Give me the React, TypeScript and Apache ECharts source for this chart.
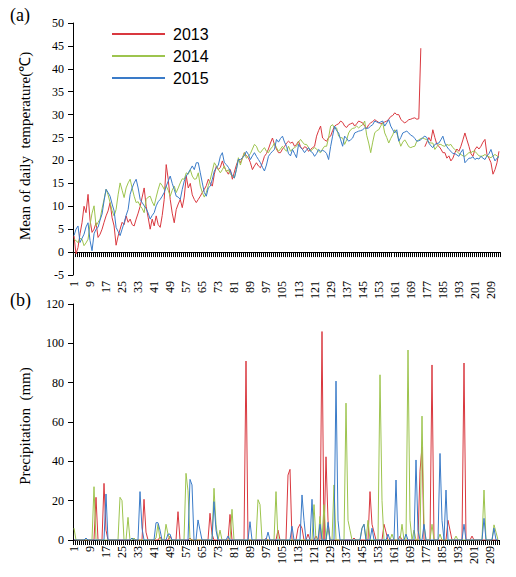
import React, { useEffect, useRef } from "react";
import * as echarts from "echarts";

const days: string[] = Array.from({ length: 213 }, (_, i) => String(i + 1));

const temp2013: (number | null)[] = [
  3.5, -0.4, 1.0, 4.0, 6.4, 10.0, 8.6, 12.6,
  7.0, 4.3, 5.0, 6.4, 3.2, 3.9, 5.0, 6.5,
  7.9, 9.0, 10.8, 7.5, 5.7, 1.5, 3.5, 5.0,
  6.5, 6.0, 7.9, 6.5, 7.2, 6.0, 5.7, 7.2,
  8.5, 10.0, 12.0, 14.0, 10.0, 7.5, 5.0, 7.2,
  5.7, 7.9, 6.0, 5.4, 8.0, 11.5, 19.1, 15.9,
  11.5, 8.5, 6.4, 9.3, 10.5, 11.5, 9.7, 12.0,
  16.6, 14.0, 15.0, 12.5, 11.5, 10.8, 11.5, 12.2,
  13.0, 13.7, 14.5, 15.9, 15.0, 14.4, 17.0, 18.8,
  18.0, 18.5, 19.9, 18.5, 17.7, 17.0, 18.0, 15.9,
  17.5, 19.0, 20.2, 19.5, 20.5, 21.7, 21.0, 20.6,
  19.5, 18.0, 18.8, 19.5, 18.8, 18.4, 19.5, 20.9,
  21.5, 22.5, 23.8, 24.9, 23.5, 22.5, 21.7, 21.7,
  22.5, 23.0, 23.8, 24.2, 23.8, 24.0, 23.1, 23.5,
  24.2, 23.0, 22.4, 23.0, 22.8, 22.0, 22.4, 22.8,
  23.1, 25.3, 26.5, 27.5, 24.9, 24.5, 24.2, 25.0,
  25.3, 26.5, 27.5, 27.8, 28.0, 28.6, 28.3, 27.5,
  27.2, 27.8, 28.0, 28.2, 27.5, 28.0, 28.6, 28.4,
  28.2, 27.5, 27.0, 27.8, 28.2, 28.5, 28.9, 28.6,
  28.3, 28.0, 28.2, 28.4, 28.6, 29.0, 29.6, 29.8,
  30.4, 30.0, 30.0, 29.0, 28.5, 28.2, 28.5, 28.9,
  29.0, 29.2, 29.3, 29.0, 29.1, 44.5, null, 23.0,
  24.0, 25.0, 24.2, 26.7, 25.0, 23.5, 23.1, 22.5,
  21.7, 21.7, 20.5, 21.0, 19.9, 20.5, 21.7, 22.5,
  22.0, 23.1, 24.5, 26.0, 24.5, 23.1, 21.5, 20.9,
  22.4, 23.0, 22.5, 23.1, 24.0, 24.6, 21.3, 20.5,
  19.5, 17.0, 18.0, 19.5, 22.0,
];

const temp2014: number[] = [
  2.8, 2.5, 2.1, 3.0, 2.8, 1.4, 2.0, 2.8,
  6.0, 8.5, 10.1, 5.7, 6.5, 7.2, 9.5, 11.5,
  13.7, 12.5, 10.8, 9.0, 7.9, 9.3, 12.5, 15.1,
  13.5, 11.9, 14.0, 15.1, 15.9, 14.0, 12.2, 10.8,
  11.0, 10.1, 9.5, 8.6, 11.5, 12.0, 12.2, 11.0,
  10.1, 12.0, 13.7, 15.1, 14.5, 13.7, 14.4, 13.5,
  12.2, 13.5, 14.4, 13.0, 14.0, 15.1, 16.0, 15.9,
  17.3, 17.0, 18.0, 16.6, 15.9, 16.0, 17.3, 14.4,
  13.0, 12.0, 13.0, 14.5, 15.9, 17.7, 19.5, 18.8,
  18.0, 17.3, 18.0, 18.8, 17.5, 18.0, 17.0, 16.6,
  16.2, 18.0, 20.6, 19.0, 20.5, 21.7, 20.5, 20.9,
  21.5, 22.5, 23.5, 23.1, 22.0, 21.7, 22.3, 22.8,
  22.0, 21.7, 22.5, 23.0, 23.8, 22.8, 22.0, 22.5,
  23.1, 22.5, 22.0, 23.1, 22.0, 22.5, 22.8, 23.1,
  24.0, 24.6, 24.0, 23.5, 23.5, 22.8, 22.0, 22.5,
  22.8, 22.5, 22.0, 21.7, 22.5, 23.1, 23.1, 25.0,
  27.5, 27.8, 27.0, 27.1, 25.3, 25.0, 24.9, 23.5,
  24.5, 26.0, 26.7, 27.0, 27.1, 27.5, 27.1, 27.5,
  27.8, 28.6, 25.5, 23.8, 21.7, 24.0, 26.0, 26.5,
  26.7, 27.5, 28.2, 26.0, 25.0, 23.8, 24.8, 25.6,
  26.7, 26.0, 24.5, 23.1, 24.0, 24.5, 23.8, 23.0,
  22.8, 23.0, 23.1, 24.2, 24.5, 24.8, 24.9, 24.7,
  24.5, 24.0, 23.8, 23.8, 22.4, 23.0, 23.5, 23.5,
  23.2, 23.1, 23.5, 23.3, 23.5, 22.8, 22.4, 22.0,
  21.5, 21.3, 21.0, 20.9, 21.3, 21.7, 21.7, 22.0,
  22.0, 21.5, 21.0, 20.9, 21.0, 21.3, 21.0, 20.8,
  20.6, 21.0, 21.3, 21.0, 20.6,
];

const temp2015: number[] = [
  3.6, 5.0, 5.7, 2.1, 3.0, 3.9, 5.5, 6.4,
  2.5, 0.3, 4.0, 5.0, 5.4, 7.0, 8.3, 11.2,
  13.7, 13.0, 12.2, 10.5, 9.0, 5.4, 4.5, 3.6,
  5.0, 6.4, 8.0, 9.3, 12.6, 14.0, 15.1, 15.9,
  14.0, 11.5, 10.8, 10.1, 9.5, 8.5, 7.2, 8.0,
  8.6, 10.1, 11.0, 11.5, 12.2, 13.0, 14.4, 15.5,
  16.6, 15.0, 13.7, 12.2, 12.0, 11.5, 13.7, 15.5,
  16.6, 17.3, 18.0, 18.8, 18.0, 19.5, 19.5, 17.3,
  15.1, 13.0, 12.2, 14.0, 14.4, 15.9, 17.7, 18.4,
  19.0, 20.9, 21.7, 19.5, 19.1, 18.5, 17.7, 16.6,
  16.2, 18.0, 20.2, 20.2, 20.6, 21.0, 22.0, 21.3,
  20.2, 21.0, 21.7, 20.9, 20.2, 19.5, 18.5, 17.7,
  19.0, 20.9, 21.5, 22.0, 22.4, 24.6, 24.0, 24.8,
  25.3, 24.0, 23.1, 21.5, 21.0, 22.4, 21.5, 20.6,
  23.5, 22.8, 22.4, 21.7, 22.3, 22.8, 22.0, 21.7,
  20.9, 21.5, 22.4, 22.0, 22.2, 22.0, 21.5, 20.2,
  23.0, 25.3, 27.5, 26.5, 26.0, 24.5, 23.1, 25.3,
  24.8, 24.2, 24.5, 24.9, 26.0, 26.2, 26.4, 26.5,
  26.7, 27.1, 27.0, 27.1, 27.5, 27.8, 28.6, 28.4,
  28.2, 28.4, 28.6, 27.5, 28.2, 28.9, 27.5, 26.7,
  26.0, 26.7, 24.2, 25.0, 26.0, 26.2, 26.4, 26.0,
  25.5, 25.3, 24.8, 24.2, 24.3, 24.5, 25.0, 25.3,
  25.0, 23.8, 23.2, 22.8, 23.5, 23.7, 23.8, 24.5,
  25.3, 23.8, 23.0, 22.4, 22.0, 21.5, 21.5, 21.2,
  20.9, 21.8, 22.4, 19.5, 20.0, 20.5, 20.5, 20.8,
  20.2, 20.5, 20.3, 20.9, 20.5, 20.2, 21.0, 21.5,
  22.4, 21.0, 19.9, 20.5, 20.9,
];

// Rain days: [day, precipitation mm]; all other days are 0 mm
const rain2013: [number, number][] = [
  [12, 21.7], [16, 28.8], [17, 5], [30, 1], [36, 20.7], [37, 4], [44, 1.5], [49, 2],
  [53, 14.4], [59, 1], [69, 13.6], [70, 3], [79, 13], [87, 91], [97, 0.8], [103, 5],
  [108, 33], [109, 35.9], [113, 6], [114, 8], [115, 6], [118, 3], [122, 2], [125, 106],
  [127, 42.3], [128, 10], [141, 1], [149, 24.6], [150, 8], [151, 4], [156, 8], [157, 4],
  [164, 2], [174, 35], [175, 47.4], [180, 89], [188, 10], [189, 5], [196, 90], [200, 2],
];
const rain2014: [number, number][] = [
  [1, 6], [11, 27.1], [24, 21.7], [25, 20], [28, 11.5], [31, 1], [42, 1], [43, 8],
  [47, 8], [48, 3], [57, 33.9], [58, 25], [71, 26.3], [72, 8], [74, 5], [80, 15.6],
  [93, 20.5], [94, 18], [102, 24.6], [121, 18], [124, 12], [126, 18], [128, 6], [131, 28],
  [137, 69.6], [138, 10], [139, 5], [145, 6], [146, 8], [148, 10], [154, 84], [155, 20],
  [160, 3], [165, 8], [168, 96.6], [169, 10], [171, 5], [175, 63], [176, 8], [180, 8],
  [184, 3], [192, 2], [206, 25.4], [211, 7.7], [212, 4],
];
const rain2015: [number, number][] = [
  [7, 1], [17, 23.4], [30, 1], [34, 24.6], [35, 6], [42, 8.8], [43, 8.8], [44, 5],
  [48, 3], [49, 3], [59, 30.8], [60, 28], [63, 10.2], [64, 5], [71, 19.5], [72, 5],
  [78, 2], [89, 9.3], [98, 4], [110, 7], [115, 22.9], [116, 10], [120, 20.7], [124, 8],
  [128, 9], [132, 80.8], [133, 10], [145, 6], [146, 8], [150, 6], [158, 3], [162, 30.5],
  [167, 3], [172, 40.7], [173, 5], [176, 8], [184, 44], [185, 10], [187, 25.4], [196, 8],
  [206, 11], [211, 6],
];

const years = ["2013", "2014", "2015"];
const colors = ["#D9383F", "#9DC44E", "#3A7BC8"];

function dailyRain(events: [number, number][]): number[] {
  const arr = days.map(() => 0);
  events.forEach(([d, v]) => {
    arr[d - 1] = v;
  });
  return arr;
}

const SERIF = "Liberation Serif";

export default function App() {
  const ref = useRef<HTMLDivElement>(null);
  useEffect(() => {
    if (!ref.current) return;
    const chart = echarts.init(ref.current, null, { renderer: "svg" });
    const axisLineStyle = { color: "#000", width: 1 };
    const xAxisBase = (gridIndex: number) => ({
      gridIndex,
      type: "category",
      data: days,
      boundaryGap: true,
      axisLine: { show: true, onZero: true, lineStyle: axisLineStyle },
      axisTick: { show: true, interval: 0, length: 5, lineStyle: axisLineStyle },
      axisLabel: { interval: 7, rotate: 90, fontSize: 12, fontFamily: SERIF, color: "#000", margin: 6 },
      splitLine: { show: false },
    });
    const yAxisBase = (gridIndex: number, min: number, max: number, interval: number) => ({
      gridIndex,
      type: "value",
      min,
      max,
      interval,
      axisLine: { show: true, lineStyle: axisLineStyle },
      axisTick: { show: true, length: 5, lineStyle: axisLineStyle },
      axisLabel: { fontSize: 12, fontFamily: SERIF, color: "#000", margin: 9 },
      splitLine: { show: false },
    });
    const tempData = [temp2013, temp2014, temp2015];
    const rainData = [rain2013, rain2014, rain2015].map(dailyRain);
    const series: any[] = [];
    years.forEach((y, i) => {
      series.push({
        name: y,
        type: "line",
        xAxisIndex: 0,
        yAxisIndex: 0,
        data: tempData[i],
        symbol: "none",
        connectNulls: false,
        lineStyle: { width: 1, color: colors[i] },
        itemStyle: { color: colors[i] },
      });
    });
    years.forEach((y, i) => {
      series.push({
        name: y,
        type: "line",
        xAxisIndex: 1,
        yAxisIndex: 1,
        data: rainData[i],
        symbol: "none",
        lineStyle: { width: 1, color: colors[i] },
        itemStyle: { color: colors[i] },
      });
    });
    chart.setOption({
      animation: false,
      backgroundColor: "#fff",
      color: colors,
      textStyle: { fontFamily: SERIF },
      grid: [
        { left: 73, right: 16, top: 23, height: 252 },
        { left: 73, right: 17, top: 304, height: 236 },
      ],
      xAxis: [xAxisBase(0), xAxisBase(1)],
      yAxis: [yAxisBase(0, -5, 50, 5), yAxisBase(1, 0, 120, 20)],
      legend: {
        data: years,
        orient: "vertical",
        left: 107,
        top: 21,
        icon: "rect",
        itemWidth: 53,
        itemHeight: 2,
        itemGap: 6,
        textStyle: { fontSize: 16, fontFamily: "Liberation Sans", color: "#000", padding: [0, 0, 0, 3] },
      },
      graphic: [
        { type: "text", left: 10, top: 6, style: { text: "(a)", fontSize: 18, fontFamily: SERIF, fill: "#000" } },
        { type: "text", left: 10, top: 291, style: { text: "(b)", fontSize: 18, fontFamily: SERIF, fill: "#000" } },
        {
          type: "text",
          x: 25,
          y: 146,
          rotation: Math.PI / 2,
          style: { text: "Mean of daily  temperature(\u2103)", fontSize: 15, fontFamily: SERIF, fill: "#000", align: "center", verticalAlign: "middle" },
        },
        {
          type: "text",
          x: 25,
          y: 426,
          rotation: Math.PI / 2,
          style: { text: "Precipitation  (mm)", fontSize: 15, fontFamily: SERIF, fill: "#000", align: "center", verticalAlign: "middle" },
        },
      ],
      series,
    });
    return () => chart.dispose();
  }, []);
  return <div ref={ref} style={{ width: 516, height: 577, position: "absolute", left: 0, top: 0 }} />;
}
